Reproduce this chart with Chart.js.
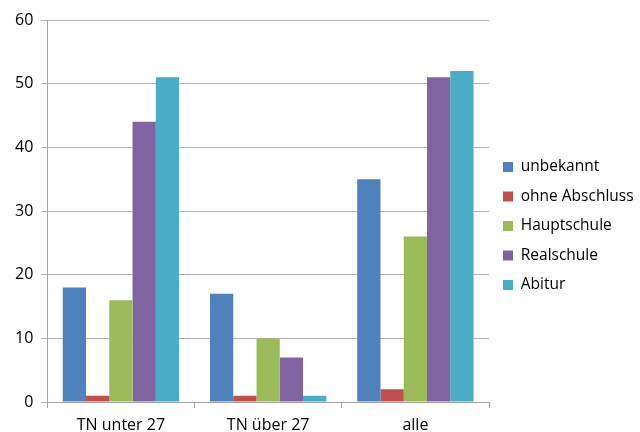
<!DOCTYPE html>
<html>
<head>
<meta charset="utf-8">
<script src="https://cdn.jsdelivr.net/npm/chart.js@4/dist/chart.umd.min.js"></script>
<style>
  html, body { margin: 0; padding: 0; background: #fff; }
  #wrap { width: 640px; height: 432px; }
</style>
</head>
<body>
<div id="wrap"><canvas id="c" width="640" height="432"></canvas></div>
<script>
// Gruppen auf der x-Achse
const categories = ['TN unter 27', 'TN über 27', 'alle'];

// Werte je Schulabschluss
const unbekannt      = [18, 17, 35];
const ohneAbschluss  = [1, 1, 2];
const hauptschule    = [16, 10, 26];
const realschule     = [44, 7, 51];
const abitur         = [51, 1, 52];

const seriesNames = ['unbekannt', 'ohne Abschluss', 'Hauptschule', 'Realschule', 'Abitur'];
const yTicks = [0, 10, 20, 30, 40, 50, 60];

const colors = ['#4F81BD', '#C0504D', '#9BBB59', '#8064A2', '#4BACC6'];
const seriesValues = [unbekannt, ohneAbschluss, hauptschule, realschule, abitur];

const FONT = 'Open Sans, Noto Sans, sans-serif';

new Chart(document.getElementById('c'), {
  type: 'bar',
  data: {
    labels: categories,
    datasets: seriesNames.map((name, i) => ({
      label: name,
      data: seriesValues[i],
      backgroundColor: colors[i],
      borderWidth: 0,
      categoryPercentage: 0.79,
      barPercentage: 1.0
    }))
  },
  options: {
    responsive: false,
    animation: false,
    devicePixelRatio: 1,
    layout: { padding: { top: 20, left: 7, right: 0, bottom: 0 } },
    plugins: {
      tooltip: { enabled: false },
      legend: {
        position: 'right',
        align: 'center',
        maxWidth: 151,
        labels: {
          boxWidth: 10,
          boxHeight: 10,
          padding: 14,
          color: '#000',
          font: { family: FONT, size: 15.5 }
        }
      }
    },
    scales: {
      x: {
        afterFit: (axis) => { axis.height = 30; },
        grid: {
          offset: true,
          drawOnChartArea: false,
          drawTicks: true,
          tickLength: 6,
          color: '#a6a6a6'
        },
        border: { color: '#a6a6a6', width: 1 },
        ticks: {
          color: '#000',
          font: { family: FONT, size: 16 },
          padding: 8
        }
      },
      y: {
        min: 0,
        max: 60,
        afterBuildTicks: (axis) => { axis.ticks = yTicks.map(v => ({ value: v })); },
        grid: {
          color: '#b3b3b3',
          tickLength: 6
        },
        border: { color: '#a6a6a6', width: 1 },
        ticks: {
          color: '#000',
          font: { family: FONT, size: 16 },
          padding: 8
        }
      }
    }
  }
});
</script>
</body>
</html>
